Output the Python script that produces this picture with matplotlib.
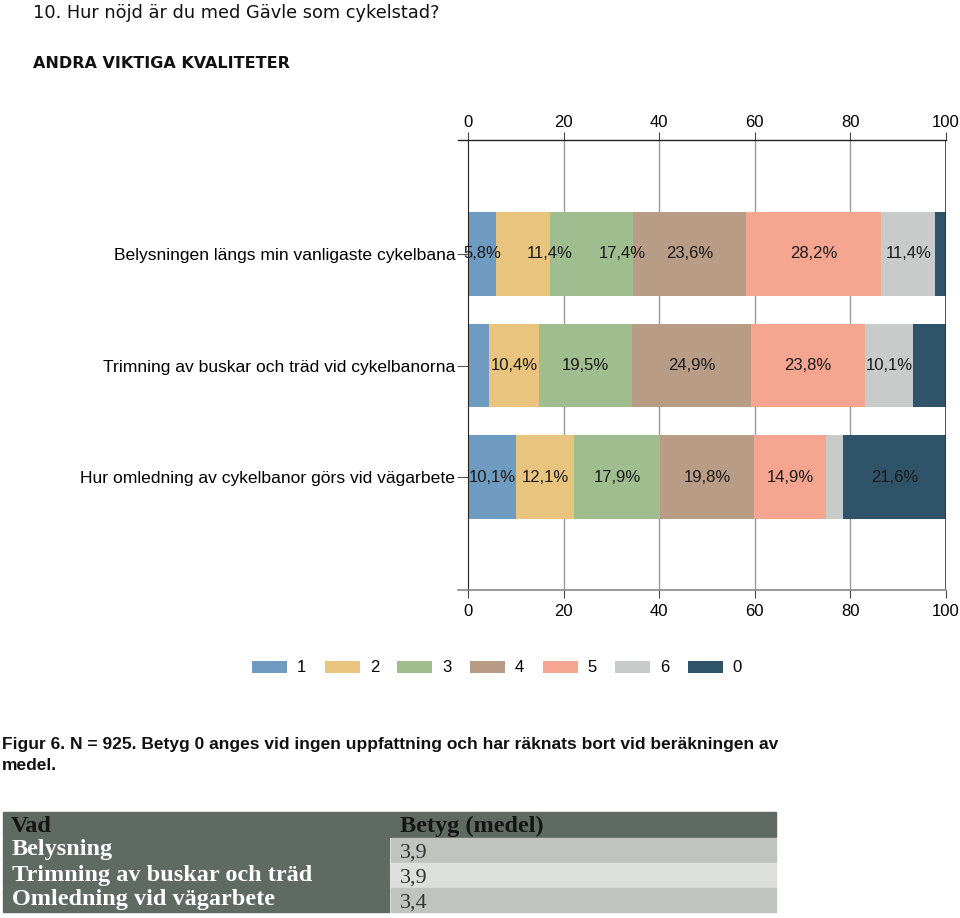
import numpy as np
import matplotlib.pyplot as plt
from matplotlib.patches import Rectangle
from matplotlib.transforms import ScaledTranslation

# data
questions = ['Belysningen längs min vanligaste cykelbana',
             'Trimning av buskar och träd vid cykelbanorna',
             'Hur omledning av cykelbanor görs vid vägarbete']
grades = ['1', '2', '3', '4', '5', '6', '0']
shares = [
    [5.8, 11.4, 17.4, 23.6, 28.2, 11.4, 2.2],
    [4.4, 10.4, 19.5, 24.9, 23.8, 10.1, 6.9],
    [10.1, 12.1, 17.9, 19.8, 14.9, 3.6, 21.6],
]
colors = ['#6f9bc0', '#e8c47e', '#a0bd8f', '#b89c86', '#f5a590', '#c8cbc9', '#2f5469']

tab_header = ['Vad', 'Betyg (medel)']
tab_items = ['Belysning', 'Trimning av buskar och träd', 'Omledning vid vägarbete']
tab_means = ['3,9', '3,9', '3,4']

sans = ['Liberation Sans', 'DejaVu Sans']
plt.rcParams['font.family'] = sans

fig = plt.figure(figsize=(9.6, 9.18), dpi=100)
fig.patch.set_facecolor('white')

# background layer in pixel coords for titles, caption and table
bg = fig.add_axes([0, 0, 1, 1])
bg.set_xlim(0, 960)
bg.set_ylim(918, 0)
bg.axis('off')

bg.text(33, 13, '10. Hur nöjd är du med Gävle som cykelstad?', family='DejaVu Sans',
        fontsize=12.8, va='center', ha='left', color='#111111')
bg.text(33, 64, 'ANDRA VIKTIGA KVALITETER', family='DejaVu Sans', fontsize=11.5,
        fontweight='bold', va='center', ha='left', color='#111111')

# chart
ax = fig.add_axes([468 / 960, 1 - 590 / 918, 478 / 960, 450 / 918])
y = np.arange(len(questions))
vals = np.array(shares)
left = np.zeros(len(questions))
for j, g in enumerate(grades):
    ax.barh(y, vals[:, j], left=left, height=0.75, color=colors[j], label=g, zorder=2)
    left = left + vals[:, j]

ax.set_xlim(0, 100)
ax.set_ylim(3.01, -1.02)
ax.set_yticks(y)
ax.set_yticklabels(questions, fontsize=12.6)
ax.tick_params(axis='y', length=8, pad=1, color='#555555')
ax.set_xticks([0, 20, 40, 60, 80, 100])
ax.tick_params(axis='x', top=True, labeltop=True, bottom=True, labelbottom=True,
               labelsize=12, length=6, pad=4, color='#444444')
for s in ['top', 'bottom', 'right']:
    ax.spines[s].set_visible(False)
ax.spines['left'].set_color('#222222')
for xv in [20, 40, 60, 80]:
    ax.axvline(xv, color='#9a9a9a', lw=1, zorder=1)
ax.axvline(100, color='#333333', lw=1.2, zorder=3)
ytop, ybot = ax.get_ylim()[1], ax.get_ylim()[0]
ax.plot([-2.1, 100], [ytop, ytop], color='#222222', lw=1, clip_on=False, zorder=4)
ax.plot([-2.1, 100], [ybot, ybot], color='#888888', lw=1.2, clip_on=False, zorder=4)

# value labels, pushed right when they would crowd the previous one
fig.canvas.draw()
renderer = fig.canvas.get_renderer()
ax_right = ax.get_window_extent(renderer).x1
for i in range(len(questions)):
    start = 0.0
    prev_end = None
    for j in range(len(grades)):
        v = vals[i, j]
        c = start + v / 2
        start += v
        if v < 5:
            continue
        t = ax.text(c, i, f'{v:.1f}%'.replace('.', ','), ha='center', va='center',
                    fontsize=12, color='#1a1a1a', zorder=5)
        bb = t.get_window_extent(renderer)
        if prev_end is not None and bb.x0 < prev_end + 4:
            shift = prev_end + 26 - bb.x0
            xd = ax.transData.inverted().transform((bb.x0 + shift + bb.width / 2, 0))[0]
            t.set_x(xd)
            bb = t.get_window_extent(renderer)
        if bb.x1 > ax_right + 2:
            t.remove()
            continue
        prev_end = bb.x1

# nudge top tick labels a little closer to the axis line
for tk in ax.xaxis.get_major_ticks():
    tk.label2.set_transform(tk.label2.get_transform() +
                            ScaledTranslation(0, -3 / 72, fig.dpi_scale_trans))

# legend
handles, labels = ax.get_legend_handles_labels()
fig.legend(handles, labels, loc='center', bbox_to_anchor=(497 / 960, 1 - 668 / 918), ncol=7,
           frameon=False, fontsize=12, handlelength=2.1, handleheight=0.7,
           handletextpad=0.6, columnspacing=1.1)

# caption
cap = ['Liberation Sans', 'DejaVu Sans']
bg.text(2, 745, 'Figur 6. N = 925. Betyg 0 anges vid ingen uppfattning och har räknats bort vid beräkningen av',
        family=cap, fontsize=12.5, fontweight='bold', va='center', ha='left', color='#111111')
bg.text(2, 766, 'medel.', family=cap, fontsize=12.5, fontweight='bold', va='center',
        ha='left', color='#111111')

# table
serif = ['Liberation Serif', 'DejaVu Serif']
x0, xm, x1 = 3, 390, 776
rows_y = [812, 838, 863, 888, 913]
dark = '#5e6a62'
bg.add_patch(Rectangle((x0, rows_y[0]), x1 - x0, rows_y[1] - rows_y[0] - 1, color=dark))
bg.text(x0 + 8, (rows_y[0] + rows_y[1]) / 2 + 1, tab_header[0], family=serif, fontsize=17.5,
        fontweight='bold', va='center', ha='left', color='#151515')
bg.text(xm + 10, (rows_y[0] + rows_y[1]) / 2 + 1, tab_header[1], family=serif, fontsize=17.5,
        fontweight='bold', va='center', ha='left', color='#151515')
right_cols = ['#bfc4bf', '#dcdfdc', '#bfc4bf']
for k, (item, m) in enumerate(zip(tab_items, tab_means)):
    ya, yb = rows_y[k + 1], rows_y[k + 2] - 1
    bg.add_patch(Rectangle((x0, ya), xm - x0 - 1, yb - ya, color=dark))
    bg.add_patch(Rectangle((xm + 1, ya), x1 - xm - 1, yb - ya, color=right_cols[k]))
    bg.text(x0 + 9, (ya + yb) / 2, item, family=serif, fontsize=17.5, fontweight='bold',
            va='center', ha='left', color='white')
    bg.text(xm + 10, (ya + yb) / 2 + 3, m, family=serif, fontsize=16,
            va='center', ha='left', color='#333333')

fig.savefig('out.png', dpi=100, facecolor='white')
